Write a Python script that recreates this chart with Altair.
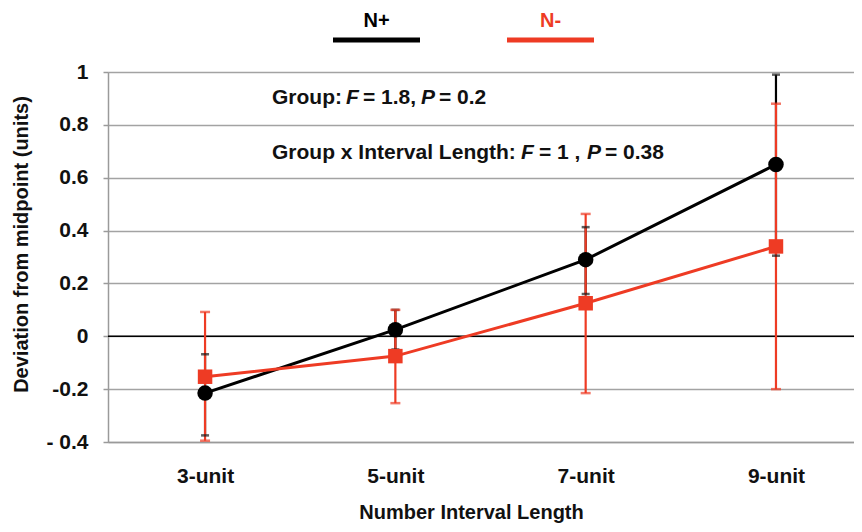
import json
import altair as alt
import pandas as pd

# ---- data ----
categories = ["3-unit", "5-unit", "7-unit", "9-unit"]
groups = ["N+", "N-"]
colors = ["#000000", "#ee3b24"]

np_mean = [-0.215, 0.025, 0.29, 0.65]
np_low = [-0.375, -0.05, 0.16, 0.305]
np_high = [-0.068, 0.10, 0.413, 0.99]

nm_mean = [-0.153, -0.075, 0.125, 0.34]
nm_low = [-0.395, -0.253, -0.215, -0.20]
nm_high = [0.092, 0.10, 0.463, 0.88]

y_ticks = [-0.4, -0.2, 0, 0.2, 0.4, 0.6, 0.8, 1]
y_tick_labels = ["- 0.4", "-0.2", "0", "0.2", "0.4", "0.6", "0.8", "1"]

FONT = "Liberation Sans"

rows = []
for g, m, lo, hi in [("N+", np_mean, np_low, np_high), ("N-", nm_mean, nm_low, nm_high)]:
    for i, c in enumerate(categories):
        rows.append({"group": g, "cat": c, "idx": i, "mean": m[i], "low": lo[i], "high": hi[i]})
df = pd.DataFrame(rows)
d_plus = df[df.group == "N+"]
d_minus = df[df.group == "N-"]

W, H = 746, 370
xscale = alt.Scale(domain=[-0.51, 3.41], nice=False, zero=False)
yscale = alt.Scale(domain=[-0.4, 1], nice=False, zero=False)

x_label_expr = json.dumps(categories) + "[datum.value]"
y_label_expr = " : ".join(
    f"abs(datum.value - ({v})) < 1e-6 ? '{t}'" for v, t in zip(y_ticks, y_tick_labels)
) + " : ''"

x_axis = alt.Axis(
    values=[0, 1, 2, 3], labelExpr=x_label_expr, title="Number Interval Length",
    ticks=False, grid=False, domain=True, domainColor="#9a9a9a", domainWidth=1.5,
    labelFont=FONT, labelFontSize=21, labelFontWeight="bold", labelColor="#111",
    labelPadding=23, labelBaseline="top",
    titleFont=FONT, titleFontSize=20, titleFontWeight="bold", titleColor="#111",
    titleX=363, titleY=70, titleBaseline="middle",
)
y_axis = alt.Axis(
    values=y_ticks, labelExpr=y_label_expr, title="Deviation from midpoint (units)",
    grid=True, gridColor="#a3a3a3", gridWidth=1.5,
    domain=True, domainColor="#9a9a9a", domainWidth=1.5,
    ticks=True, tickColor="#9a9a9a", tickSize=5, tickWidth=1.5,
    labelFont=FONT, labelFontSize=21, labelFontWeight="bold", labelColor="#111",
    labelPadding=15,
    titleFont=FONT, titleFontSize=20, titleFontWeight="bold", titleColor="#111",
    titleX=-87, titleY=H / 2 - 13, titleAngle=-90, titleAlign="center", titleBaseline="middle",
)

base_axes = alt.Chart(df).mark_point(opacity=0).encode(
    x=alt.X("idx:Q", scale=xscale, axis=x_axis),
    y=alt.Y("mean:Q", scale=yscale, axis=y_axis),
)

zero = alt.Chart(pd.DataFrame({"v": [0]})).mark_rule(color="#000", strokeWidth=1.5).encode(
    y=alt.Y("v:Q", scale=yscale)
)


def err_layers(d, color, cap_w, cap_color):
    bar = alt.Chart(d).mark_rule(color=color, strokeWidth=2.2).encode(
        x=alt.X("idx:Q", scale=xscale), y=alt.Y("low:Q", scale=yscale), y2="high:Q"
    )
    cap_lo = alt.Chart(d).mark_tick(color=cap_color, thickness=2.5, size=cap_w, orient="horizontal").encode(
        x=alt.X("idx:Q", scale=xscale), y=alt.Y("low:Q", scale=yscale)
    )
    cap_hi = alt.Chart(d).mark_tick(color=cap_color, thickness=2.5, size=cap_w, orient="horizontal").encode(
        x=alt.X("idx:Q", scale=xscale), y=alt.Y("high:Q", scale=yscale)
    )
    return bar, cap_lo, cap_hi


bp, bp_lo, bp_hi = err_layers(d_plus, "#000", 8, "#1a1a1a")
bm, bm_lo, bm_hi = err_layers(d_minus, colors[1], 10, colors[1])

line_plus = alt.Chart(d_plus).mark_line(color="#000", strokeWidth=3).encode(
    x=alt.X("idx:Q", scale=xscale), y=alt.Y("mean:Q", scale=yscale)
)
line_minus = alt.Chart(d_minus).mark_line(color=colors[1], strokeWidth=3).encode(
    x=alt.X("idx:Q", scale=xscale), y=alt.Y("mean:Q", scale=yscale)
)
pts_plus = alt.Chart(d_plus).mark_point(shape="circle", filled=True, color="#000", size=240, opacity=1).encode(
    x=alt.X("idx:Q", scale=xscale), y=alt.Y("mean:Q", scale=yscale)
)
pts_minus = alt.Chart(d_minus).mark_point(shape="square", filled=True, color=colors[1], size=210, opacity=1).encode(
    x=alt.X("idx:Q", scale=xscale), y=alt.Y("mean:Q", scale=yscale)
)

# ---- legend (label above a thick line) ----
legend_layers = []
for name, col, x0, x1 in [(groups[0], colors[0], 225, 312), (groups[1], colors[1], 399, 486)]:
    legend_layers.append(
        alt.Chart(pd.DataFrame({"g": [name]})).mark_rule(color=col, strokeWidth=5).encode(
            x=alt.value(x0), x2=alt.value(x1), y=alt.value(-32)
        )
    )
    legend_layers.append(
        alt.Chart(pd.DataFrame({"g": [name]})).mark_text(
            color=col, font=FONT, fontSize=20, fontWeight="bold", align="center", baseline="middle"
        ).encode(text="g:N", x=alt.value((x0 + x1) / 2), y=alt.value(-51))
    )

# ---- statistics annotation (F and P in italics) ----
ann_segments = [
    ("Group:", "normal", 164, 26),
    ("F", "italic", 238, 26),
    ("= 1.8,", "normal", 255, 26),
    ("P", "italic", 313, 26),
    ("= 0.2", "normal", 331, 26),
    ("Group x Interval Length:", "normal", 164, 81),
    ("F", "italic", 413, 81),
    ("= 1 ,", "normal", 431, 81),
    ("P", "italic", 479, 81),
    ("= 0.38", "normal", 497, 81),
]
ann_layers = []
for txt, style, px, py in ann_segments:
    ann_layers.append(
        alt.Chart(pd.DataFrame({"t": [txt]})).mark_text(
            font=FONT, fontSize=21, fontWeight="bold", fontStyle=style, color="#111",
            align="left", baseline="middle"
        ).encode(text="t:N", x=alt.value(px), y=alt.value(py))
    )

chart = alt.layer(
    base_axes, zero,
    bp, bm, bp_lo, bp_hi, bm_lo, bm_hi,
    line_plus, line_minus, pts_plus, pts_minus,
    *legend_layers, *ann_layers,
).properties(
    width=W, height=H,
    autosize=alt.AutoSizeParams(type="none"),
    padding={"left": 100, "top": 64, "right": 0, "bottom": 82},
).configure_view(stroke=None).configure(background="white")

chart.save("out.html", embed_options={"renderer": "svg", "actions": False})
